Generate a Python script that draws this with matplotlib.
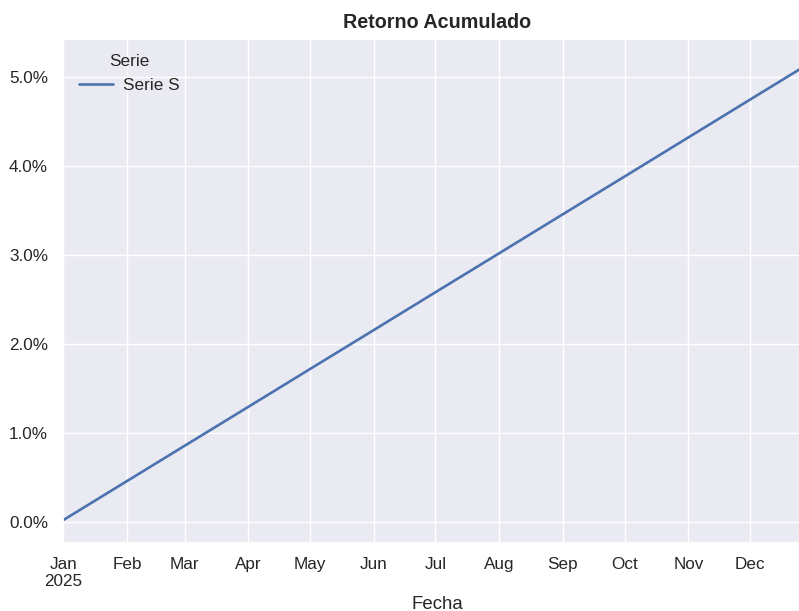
import matplotlib
matplotlib.use("Agg")
import matplotlib.pyplot as plt
import matplotlib.dates as mdates
import matplotlib.ticker as mticker
import seaborn as sns
import pandas as pd

sns.set_theme(style="darkgrid")
plt.rcParams['font.family'] = ['Liberation Sans', 'DejaVu Sans']

fechas = ["2025-01-01", "2025-02-01", "2025-03-01", "2025-04-01", "2025-05-01",
          "2025-06-01", "2025-07-01", "2025-08-01", "2025-09-01", "2025-10-01",
          "2025-11-01", "2025-12-01", "2025-12-31"]
retorno = [0.00020, 0.00459, 0.00855, 0.01293, 0.01718, 0.02156, 0.02581,
           0.03019, 0.03458, 0.03882, 0.04321, 0.04746, 0.05170]
serie_nombre = "Serie S"

fechas_dt = pd.to_datetime(fechas)

W, H = 799, 611
fig = plt.figure(figsize=(W / 100, H / 100), dpi=100)
left_px, right_px, top_px, bottom_px = 63.3, 811.7, 39, 543
ax = fig.add_axes([left_px / W, (H - bottom_px) / H,
                   (right_px - left_px) / W, (bottom_px - top_px) / H])

ax.plot(fechas_dt, retorno, color="#4c72b0", linewidth=1.9, label=serie_nombre)
ax.set_xlim(fechas_dt[0], fechas_dt[-1])
ax.margins(y=0.05)

ax.xaxis.set_major_locator(mdates.MonthLocator())
def fmt(x, pos):
    d = mdates.num2date(x)
    if d.month == 1:
        return d.strftime("%b") + "\n" + d.strftime("%Y")
    return d.strftime("%b")
ax.xaxis.set_major_formatter(mticker.FuncFormatter(fmt))
ax.yaxis.set_major_formatter(mticker.PercentFormatter(1.0, decimals=1))
ax.yaxis.set_major_locator(mticker.MultipleLocator(0.01))

ax.tick_params(axis="both", labelsize=12.3, colors=".15")
ax.tick_params(axis="x", pad=4)
ax.tick_params(axis="y", pad=5)
ax.set_xlabel("Fecha", fontsize=13.4, color=".15", labelpad=4.5)
ax.set_ylabel("")
ax.set_title("Retorno Acumulado", fontsize=14.2, fontweight="bold", color=".15", pad=8)

leg = ax.legend(title="Serie", loc="upper left", frameon=False, fontsize=12.3,
                title_fontsize=12.3, bbox_to_anchor=(0.0, 1.0),
                handletextpad=0.6)

fig.savefig("out.png", dpi=100)
